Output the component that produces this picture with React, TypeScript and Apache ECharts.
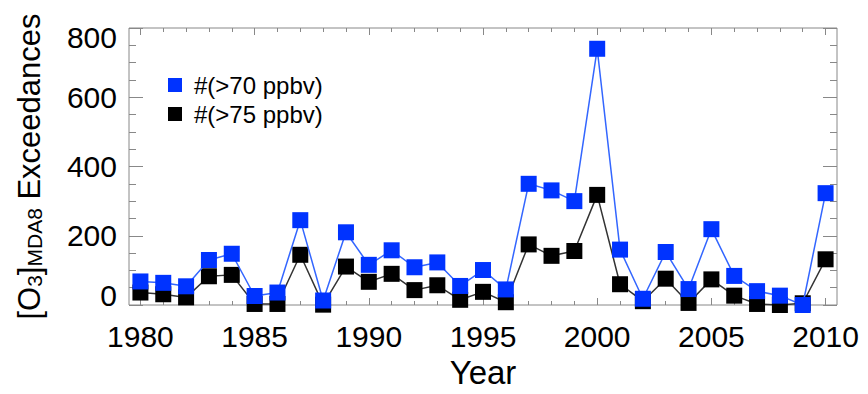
import React, { useEffect, useRef } from "react";
import * as echarts from "echarts";

const years = [
  1980, 1981, 1982, 1983, 1984, 1985, 1986, 1987, 1988, 1989, 1990, 1991, 1992, 1993, 1994, 1995,
  1996, 1997, 1998, 1999, 2000, 2001, 2002, 2003, 2004, 2005, 2006, 2007, 2008, 2009, 2010,
];
const exceed70 = [
  68, 64, 54, 130, 148, 26, 36, 245, 13, 210, 116, 158, 109, 123, 55, 101,
  45, 350, 331, 300, 740, 160, 18, 153, 46, 219, 84, 40, 27, 0, 323,
];
const exceed75 = [
  36, 31, 22, 83, 87, 3, 3, 145, 1, 111, 67, 90, 43, 57, 15, 38,
  8, 175, 142, 156, 318, 60, 11, 76, 6, 74, 27, 3, 0, 5, 132,
];
const xMajorTicks = [1980, 1985, 1990, 1995, 2000, 2005, 2010];
const seriesNames = ["#(>70 ppbv)", "#(>75 ppbv)"];

const FONT = "'Liberation Sans', Arial, Helvetica, sans-serif";
const AX = "#888888";

export default function App() {
  const ref = useRef<HTMLDivElement>(null);
  useEffect(() => {
    if (!ref.current) return;
    const chart = echarts.init(ref.current, undefined, { renderer: "svg" });
    const xBase = {
      type: "value",
      min: 1979.5,
      max: 2010.5,
      splitLine: { show: false },
      axisLine: { show: false },
    };
    const yBase = {
      type: "value",
      min: 0,
      max: 800,
      interval: 200,
      splitLine: { show: false },
      axisLine: { show: false },
      axisTick: { show: true, inside: true, length: 14, lineStyle: { color: AX } },
      minorTick: { show: true, splitNumber: 4, length: 7, lineStyle: { color: AX } },
    };
    const lab = { fontSize: 30, color: "#000", fontFamily: FONT };
    chart.setOption({
      animation: false,
      backgroundColor: "#ffffff",
      textStyle: { fontFamily: FONT },
      grid: {
        left: 129,
        top: 28,
        width: 708,
        height: 284,
        show: true,
        borderColor: AX,
        borderWidth: 1,
        backgroundColor: "transparent",
      },
      legend: {
        data: seriesNames,
        orient: "vertical",
        left: 163,
        top: 68,
        icon: "rect",
        itemWidth: 14,
        itemHeight: 14,
        itemGap: 5,
        textStyle: { fontSize: 24, color: "#000", fontFamily: FONT, padding: [0, 0, 0, 7] },
      },
      xAxis: [
        {
          ...xBase,
          position: "bottom",
          name: "Year",
          nameLocation: "middle",
          nameGap: 51,
          nameTextStyle: { fontSize: 33, color: "#000", fontFamily: FONT },
          axisTick: { show: true, inside: true, length: 7, customValues: xMajorTicks, lineStyle: { color: AX } },
          axisLabel: {
            show: true,
            customValues: xMajorTicks,
            ...lab,
            margin: 16,
            formatter: (v: number) => String(v),
          },
        },
        {
          ...xBase,
          position: "bottom",
          axisTick: { show: true, inside: true, length: 4, customValues: years, lineStyle: { color: AX } },
          axisLabel: { show: false },
        },
        {
          ...xBase,
          position: "top",
          axisTick: { show: true, inside: true, length: 7, customValues: xMajorTicks, lineStyle: { color: AX } },
          axisLabel: { show: false },
        },
        {
          ...xBase,
          position: "top",
          axisTick: { show: true, inside: true, length: 4, customValues: years, lineStyle: { color: AX } },
          axisLabel: { show: false },
        },
      ],
      yAxis: [
        {
          ...yBase,
          position: "left",
          name: "{m|[O}{s|3}{m|]}{s|MDA8}{m| Exceedances}",
          nameLocation: "middle",
          nameGap: 84,
          nameTextStyle: {
            color: "#000",
            fontFamily: FONT,
            rich: {
              m: { fontSize: 31, lineHeight: 36, fontFamily: FONT, color: "#000", verticalAlign: "bottom" },
              s: { fontSize: 21, lineHeight: 14, fontFamily: FONT, color: "#000", verticalAlign: "bottom" },
            },
          },
          axisLabel: {
            show: true,
            margin: 12,
            formatter: (v: number) =>
              v === 0 ? "{lo|0}" : v === 800 ? "{hi|800}" : "{n|" + v + "}",
            rich: {
              n: { ...lab },
              lo: { ...lab, padding: [0, 0, 20, 0] },
              hi: { ...lab, padding: [18, 0, 0, 0] },
            },
          },
        },
        {
          ...yBase,
          position: "right",
          axisLabel: { show: false },
        },
      ],
      series: [
        {
          name: seriesNames[1],
          type: "line",
          xAxisIndex: 0,
          yAxisIndex: 0,
          data: years.map((y, i) => [y, exceed75[i]]),
          symbol: "rect",
          symbolSize: 16,
          itemStyle: { color: "#000000" },
          lineStyle: { color: "#333333", width: 1.5 },
          clip: false,
          z: 2,
        },
        {
          name: seriesNames[0],
          type: "line",
          xAxisIndex: 0,
          yAxisIndex: 0,
          data: years.map((y, i) => [y, exceed70[i]]),
          symbol: "rect",
          symbolSize: 16,
          itemStyle: { color: "#0033ff" },
          lineStyle: { color: "#3366ff", width: 1.5 },
          clip: false,
          z: 3,
        },
      ],
    });
    return () => chart.dispose();
  }, []);
  return (
    <div
      ref={ref}
      style={{ position: "fixed", left: 0, top: 0, width: 868, height: 394, background: "#fff" }}
    />
  );
}
